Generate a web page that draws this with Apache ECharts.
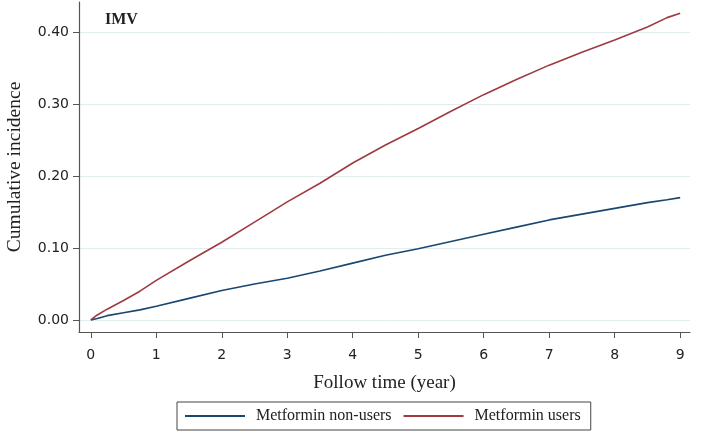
<!DOCTYPE html>
<html>
<head>
<meta charset="utf-8">
<script src="https://cdn.jsdelivr.net/npm/echarts@6/dist/echarts.min.js"></script>
<style>html,body{margin:0;padding:0;background:#fff}#c{width:707px;height:440px}</style>
</head>
<body>
<div id="c"></div>
<script>
const years = [0, 0.1, 0.25, 0.5, 0.75, 1, 1.5, 2, 2.5, 3, 3.5, 4, 4.5, 5, 5.5, 6, 6.5, 7, 7.5, 8, 8.5, 8.8, 9];
const usersValues = [0, 0.007, 0.015, 0.027, 0.040, 0.055, 0.082, 0.108, 0.136, 0.164, 0.190, 0.218, 0.243, 0.266, 0.290, 0.313, 0.334, 0.354, 0.372, 0.389, 0.407, 0.420, 0.426];
const nonUsersValues = [0, 0.002, 0.006, 0.010, 0.014, 0.019, 0.030, 0.041, 0.050, 0.058, 0.068, 0.079, 0.090, 0.099, 0.109, 0.119, 0.129, 0.139, 0.147, 0.155, 0.163, 0.167, 0.170];
const xTicks = [0, 1, 2, 3, 4, 5, 6, 7, 8, 9];
const yTicks = [0, 0.1, 0.2, 0.3, 0.4];
const seriesNames = ['Metformin non-users', 'Metformin users'];

const chart = echarts.init(document.getElementById('c'));
const serif = 'Liberation Serif, Times New Roman, serif';
const sans = 'DejaVu Sans, Verdana, sans-serif';
chart.setOption({
  animation: false,
  title: {
    text: 'IMV', left: 100, top: 7,
    textStyle: { fontFamily: serif, fontWeight: 'bold', fontSize: 16, color: '#222' }
  },
  grid: { left: 79, right: 17, top: 2, bottom: 108, containLabel: false, outerBoundsMode: 'none' },
  legend: {
    data: seriesNames,
    left: 177, top: 402,
    width: 412, height: 30,
    padding: [6, 10, 6, 8],
    borderColor: '#444', borderWidth: 1,
    itemWidth: 60, itemHeight: 2, itemGap: 12,
    icon: 'rect',
    textStyle: { fontFamily: serif, fontSize: 16, color: '#222', padding: [0, 0, 0, 6] }
  },
  xAxis: {
    type: 'value', min: -0.18, max: 9.15,
    name: 'Follow time (year)', nameLocation: 'middle', nameGap: 42,
    nameTextStyle: { fontFamily: serif, fontSize: 19, color: '#222' },
    axisLine: { show: true, onZero: false, lineStyle: { color: '#555', width: 1.2 } },
    axisTick: { show: true, length: 6, customValues: xTicks, lineStyle: { color: '#555' } },
    axisLabel: { customValues: xTicks, fontFamily: sans, fontSize: 14, color: '#222', margin: 16 },
    splitLine: { show: false }
  },
  yAxis: {
    type: 'value', min: -0.0167, max: 0.4417,
    name: 'Cumulative incidence', nameLocation: 'middle', nameGap: 54,
    nameTextStyle: { fontFamily: serif, fontSize: 19.5, color: '#222' },
    axisLine: { show: true, onZero: false, lineStyle: { color: '#555', width: 1.2 } },
    axisTick: { show: true, length: 6, customValues: yTicks, lineStyle: { color: '#555' } },
    axisLabel: { customValues: yTicks, fontFamily: sans, fontSize: 14, color: '#222', margin: 10,
      formatter: v => v.toFixed(2) },
    splitLine: { show: true, lineStyle: { color: '#e4eded', width: 1 } }
  },
  series: [
    { name: seriesNames[0], type: 'line', showSymbol: false, symbol: 'none',
      data: years.map((x, i) => [x, nonUsersValues[i]]),
      lineStyle: { color: '#1a476f', width: 1.6 }, itemStyle: { color: '#1a476f' } },
    { name: seriesNames[1], type: 'line', showSymbol: false, symbol: 'none',
      data: years.map((x, i) => [x, usersValues[i]]),
      lineStyle: { color: '#9e3a40', width: 1.6 }, itemStyle: { color: '#9e3a40' } }
  ]
});
</script>
</body>
</html>
